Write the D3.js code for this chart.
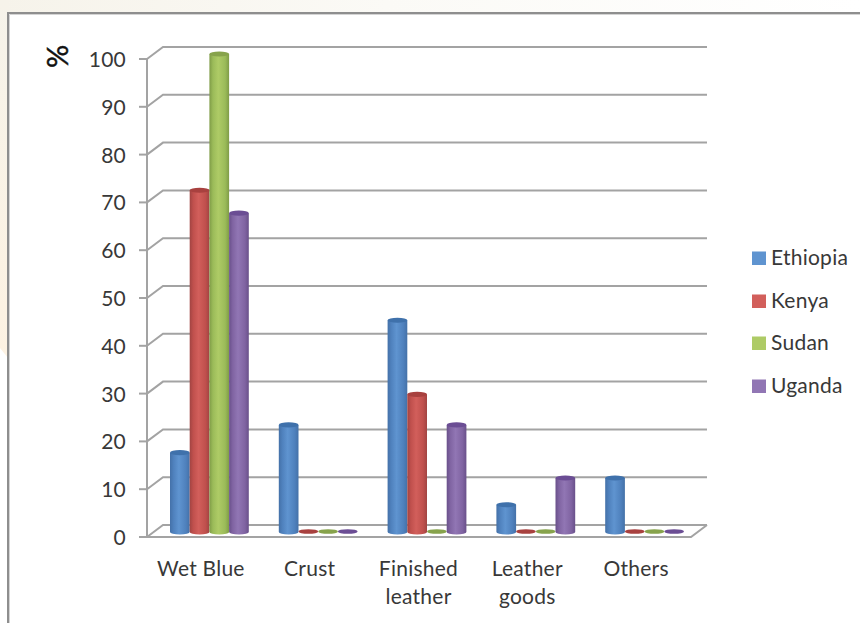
<!DOCTYPE html>
<html><head><meta charset="utf-8">
<script src="https://cdn.jsdelivr.net/npm/d3@7/dist/d3.min.js"></script>
<style>html,body{margin:0;padding:0;background:#fff}svg{display:block}text{font-family:"Lato","Open Sans",sans-serif;fill:#383838;letter-spacing:0.25px}</style>
</head><body><svg id="c" width="860" height="623"></svg>
<script>
const categories=[["Wet Blue"],["Crust"],["Finished","leather"],["Leather","goods"],["Others"]];
const seriesNames=["Ethiopia","Kenya","Sudan","Uganda"];
const ethiopia=[16.6,22.4,44.3,5.7,11.3];
const kenya=[71.5,0,28.8,0,0];
const sudan=[100,0,0,0,0];
const uganda=[66.7,0,22.4,11.3,0];
const seriesValues=[ethiopia,kenya,sudan,uganda];
const yTicks=[0,10,20,30,40,50,60,70,80,90,100];
const fills=["#4f81bd","#c0504d","#9bbb59","#8064a2"];
const lights=["#5f94d0","#d25f5b","#aecb66","#9176b4"];
const darks=["#3f71ab","#a8413f","#87a34c","#6b4d94"];
const edges=["#4471a8","#a14442","#7f9c47","#69508a"];
const W=860,H=623;
const svg=d3.select("#c");
const defs=svg.append("defs");
// page background
const bgTop=defs.append("linearGradient").attr("id","bgTop");
bgTop.append("stop").attr("offset",0).attr("stop-color","#f6f3ea");
bgTop.append("stop").attr("offset",0.45).attr("stop-color","#fbfaf6");
bgTop.append("stop").attr("offset",1).attr("stop-color","#ffffff");
const bgLeft=defs.append("linearGradient").attr("id","bgLeft").attr("x1",0).attr("y1",0).attr("x2",0).attr("y2",1);
bgLeft.append("stop").attr("offset",0).attr("stop-color","#f6f3ea");
bgLeft.append("stop").attr("offset",1).attr("stop-color","#fdf2e2");
svg.append("rect").attr("width",W).attr("height",H).attr("fill","#fff");
svg.append("rect").attr("width",W).attr("height",13).attr("fill","url(#bgTop)");
svg.append("path").attr("d","M0,0H8V358L0,348Z").attr("fill","url(#bgLeft)");
svg.append("rect").attr("x",8).attr("y",13).attr("width",W+20).attr("height",H+20).attr("fill","#fff").attr("stroke","#8e8e8e").attr("stroke-width",2);
svg.append("path").attr("d",`M9.5,${H}V14.5H${W}`).attr("fill","none").attr("stroke","#d4d4d4").attr("stroke-width",1);

const y0=537,y100=59,xL=147,xR=691,dx=16,dy=-12;
const y=d3.scaleLinear().domain([0,100]).range([y0,y100]);
const x=d3.scaleBand().domain(d3.range(5)).range([xL,xR]);
const grid="#a3a3a3";
const g=svg.append("g").attr("fill","none").attr("stroke",grid).attr("stroke-width",2);
g.selectAll("path.g").data(yTicks).join("path").attr("class","g")
 .attr("d",d=>`M${xL},${y(d)}L${xL+dx},${y(d)+dy}L${xR+dx},${y(d)+dy}`);
g.append("path").attr("d",`M${xL},${y(100)}V${y(0)}`);
g.append("path").attr("d",`M${xL},${y(0)}H${xR}L${xR+dx},${y(0)+dy}`);
g.selectAll("path.t").data(yTicks).join("path").attr("class","t").attr("d",d=>`M${xL-8},${y(d)}H${xL}`);

svg.selectAll("text.yl").data(yTicks).join("text").attr("class","yl")
 .attr("x",xL-21).attr("y",d=>y(d)+8).attr("text-anchor","end").attr("font-size",21).text(d=>d);
svg.append("text").attr("transform","translate(68,68) rotate(-90)").attr("font-size",29).attr("font-weight",400).style("fill","#111").style("stroke","#111").style("stroke-width",0.5).style("letter-spacing","0").text("%");

// bars
const barW=19.7,ox=8,oy=-5,ry=2.6;
const bars=svg.append("g");
const band=x.bandwidth();
categories.forEach((c,ci)=>{
 const start=x(ci)+ox+band/2-2*barW;
 seriesNames.forEach((s,si)=>{
  const v=seriesValues[si][ci];
  const gid=`g${si}`;
  if(ci===0){
   const lg=defs.append("linearGradient").attr("id",gid);
   lg.append("stop").attr("offset",0).attr("stop-color",edges[si]);
   lg.append("stop").attr("offset",0.18).attr("stop-color",fills[si]);
   lg.append("stop").attr("offset",0.45).attr("stop-color",lights[si]);
   lg.append("stop").attr("offset",0.8).attr("stop-color",fills[si]);
   lg.append("stop").attr("offset",1).attr("stop-color",edges[si]);
  }
  const bx=start+si*barW, yb=y(0)+oy, yt=y(v)+oy, rx=barW/2;
  if(v>0){
   bars.append("path").attr("fill",`url(#${gid})`)
    .attr("d",`M${bx},${yt}V${yb}A${rx},${ry} 0 0 0 ${bx+barW},${yb}V${yt}Z`);
   bars.append("ellipse").attr("cx",bx+rx).attr("cy",yt).attr("rx",rx).attr("ry",ry).attr("fill",darks[si]);
  } else {
   bars.append("ellipse").attr("cx",bx+rx).attr("cy",yb-0.5).attr("rx",rx).attr("ry",2.3).attr("fill",darks[si]);
  }
 });
});

// x labels
categories.forEach((c,ci)=>{
 const t=svg.append("text").attr("text-anchor","middle").attr("font-size",21);
 c.forEach((l,i)=>t.append("tspan").attr("x",x(ci)+band/2-0.5).attr("y",576+i*28).text(l));
});
// legend
const ly=[258,301,343,386];
const leg=svg.selectAll("g.l").data(seriesNames).join("g").attr("class","l").attr("transform",(d,i)=>`translate(752,${ly[i]})`);
leg.append("rect").attr("y",-6.5).attr("width",14).attr("height",13.5).attr("fill",(d,i)=>lights[i]);
leg.append("text").attr("x",19).attr("y",7).attr("font-size",21).text(d=>d);
</script></body></html>
